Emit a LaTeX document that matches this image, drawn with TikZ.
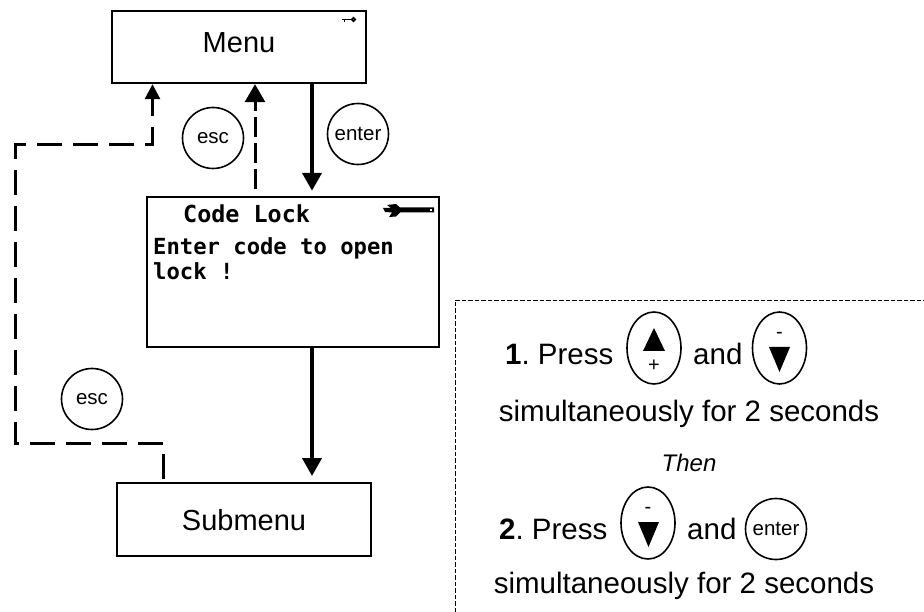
\documentclass[tikz,border=0pt]{standalone}
\usepackage{fontspec}
\setmainfont{Liberation Sans}
\newfontfamily\lcdfont{DejaVu Sans Mono}
\usetikzlibrary{arrows.meta,shapes.geometric}
\frenchspacing
\begin{document}
\begin{tikzpicture}[x=1pt,y=-1pt]
			\tikzstyle{screen}=[draw,line width=2.4pt,rectangle,inner sep=0pt,minimum width=254pt,minimum height=72pt]
			\tikzstyle{title}=[inner sep=0pt,anchor=base,font=\fontsize{29}{34}\selectfont]
			\tikzstyle{lcd}=[inner sep=0pt,anchor=base west,font=\lcdfont\bfseries\fontsize{22.2}{26}\selectfont]
			\tikzstyle{step text}=[inner sep=0pt,anchor=base west,font=\fontsize{29.5}{34}\selectfont]
			\tikzstyle{line text}=[inner sep=0pt,anchor=base,font=\fontsize{29.5}{34}\selectfont]
			\tikzstyle{round key}=[draw,circle,line width=1.6pt,inner sep=0pt,minimum size=61pt,font=\fontsize{20.5}{24}\selectfont]
			\tikzstyle{oval key}=[draw,ellipse,line width=1.6pt,inner sep=0pt,minimum width=54pt,minimum height=72pt]
			\tikzstyle{sign}=[inner sep=0pt,font=\fontsize{20}{24}\selectfont]
			\tikzstyle{go}=[line width=4pt,-{Triangle[length=18pt,width=19pt]}]
			\tikzstyle{back}=[line width=3pt,dash pattern=on 20pt off 6pt,-{Triangle[length=18pt,width=20pt]}]
			\tikzstyle{back long}=[line width=3pt,dash pattern=on 25pt off 11pt,-{Triangle[length=15pt,width=15pt]}]
			\useasboundingbox (0,0) rectangle (924,612);
			\node[screen] (g_menu) at (239,47) {};
			\node[screen,minimum width=292pt,minimum height=150pt] (g_lock) at (293,272) {};
			\node[screen,minimum height=73pt,line width=2pt] (g_sub) at (244,519.5) {};
			\node[title] (t_menu) at (239,53) {Menu};
			\node[title] (t_sub) at (244,530) {Submenu};
			\node[lcd,font=\lcdfont\bfseries\fontsize{23.4}{26}\selectfont] (t_lock) at (183,223) {Code Lock};
			\node[lcd] (t_enter) at (153,255) {Enter code to open};
			\node[lcd] (t_open) at (153,280) {lock !};
			\node[round key] (k_esc) at (213,138) {esc};
			\node[round key] (k_enter) at (358,134) {enter};
			\node[round key] (k_esc2) at (92,399) {esc};
			\coordinate (c_1) at (163,443);
			\coordinate (c_2) at (15,443);
			\coordinate (c_3) at (15,145);
			\coordinate (c_4) at (152.5,145);
			\draw[go,shorten >=5pt] ([xshift=73]g_menu.south) -- ([xshift=19]g_lock.north);
			\draw[go,shorten >=6pt] ([xshift=19]g_lock.south) -- ([xshift=68]g_sub.north);
			\draw[back,shorten <=7pt] ([xshift=-38]g_lock.north) -- ([xshift=16]g_menu.south);
			\draw[back long,shorten <=3pt] ([xshift=-81]g_sub.north) -- (c_1) -- (c_2) -- (c_3) -- (c_4) -- ([xshift=-86.5]g_menu.south);
			% small key and wrench
			\draw[line width=1.6pt] (342,19.5) -- (351,19.5) (344.5,19.5) -- (344.5,22.5);
			\draw[line width=1.6pt] (353.5,19.5) circle (1.8pt);
			\fill (400,207.5) -- (434,207.5) -- (434,212.5) -- (400,212.5) -- (396,216.5) -- (389,217) -- (392,212.5) -- (385,212) -- (383,208) -- (391,208) -- (387,205) -- (396,204) -- cycle;
			\fill[white] (429.5,209) rectangle (431.5,211);
			% instruction panel
			\draw[dash pattern=on 4.5pt off 2pt,line width=0.8pt] (455,612) -- (455,300) -- (924,300);
			\node[step text] (t_one) at (505,365) {\textbf{1}. Press};
			\node[oval key] (k_up) at (654,348) {};
			\node[step text] (t_and) at (693,365) {and};
			\node[oval key] (k_down) at (779.5,348) {};
			\node[line text] (t_simul) at (689,421) {simultaneously for 2 seconds};
			\node[line text,font=\itshape\fontsize{24}{28}\selectfont] (t_then) at (689,471) {Then};
			\node[step text] (t_two) at (499,539) {\textbf{2}. Press};
			\node[oval key] (k_down2) at (648,523) {};
			\node[step text] (t_and2) at (687,539) {and};
			\node[round key] (k_enter2) at (776,529) {enter};
			\node[line text] (t_simul2) at (684,593) {simultaneously for 2 seconds};
			\node[sign] (s_plus) at (654,366) {+};
			\node[sign] (s_minus) at (779.5,335) {-};
			\node[sign] (s_minus2) at (648,510) {-};
			\fill (643,351) -- (654,328) -- (665,351) -- cycle;
			\fill (769,347) -- (790,347) -- (779.5,372) -- cycle;
			\fill (638,522) -- (659,522) -- (648.5,547) -- cycle;
		\end{tikzpicture}
\end{document}
